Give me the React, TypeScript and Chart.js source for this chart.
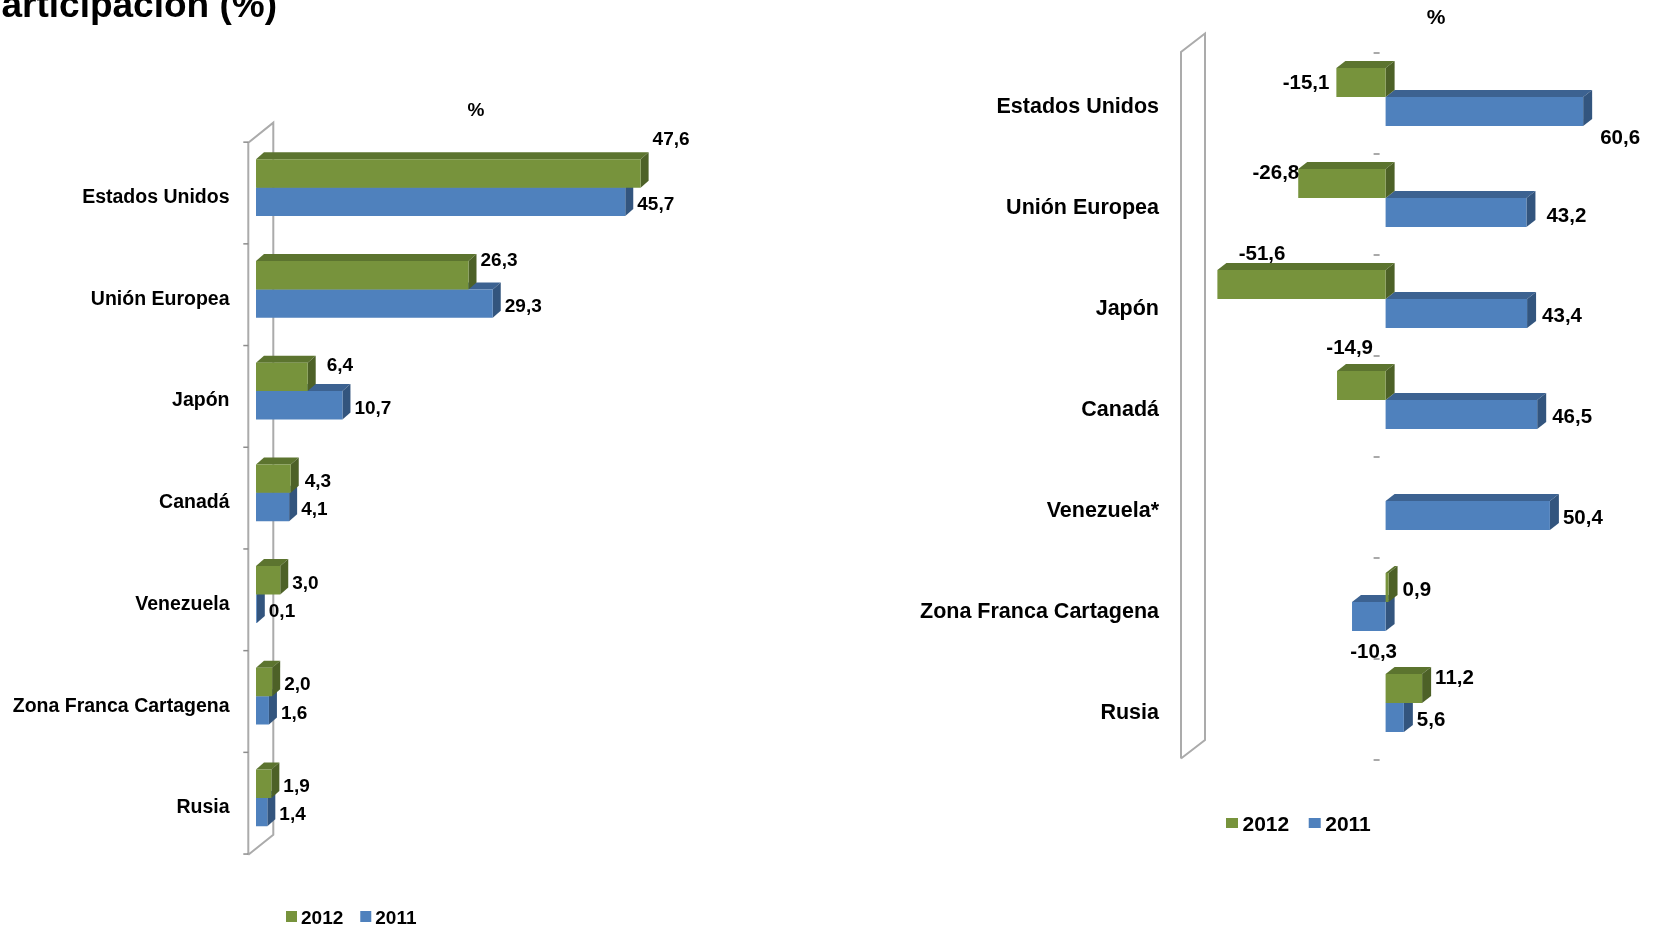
import React, { useEffect, useRef } from 'react';
import { Chart, registerables } from 'chart.js';

Chart.register(...registerables);

// ---------- DATA ----------
const categoriesLeft = ['Estados Unidos', 'Unión Europea', 'Japón', 'Canadá', 'Venezuela', 'Zona Franca Cartagena', 'Rusia'];
const categoriesRight = ['Estados Unidos', 'Unión Europea', 'Japón', 'Canadá', 'Venezuela*', 'Zona Franca Cartagena', 'Rusia'];
const seriesNames = ['2012', '2011'];
const left2012 = [47.6, 26.3, 6.4, 4.3, 3.0, 2.0, 1.9];
const left2011 = [45.7, 29.3, 10.7, 4.1, 0.1, 1.6, 1.4];
const right2012: (number | null)[] = [-15.1, -26.8, -51.6, -14.9, null, 0.9, 11.2];
const right2011 = [60.6, 43.2, 43.4, 46.5, 50.4, -10.3, 5.6];
const pageTitle = 'Participación (%)';
const unitLabel = '%';

// ---------- LAYOUT / STYLE ----------
const FONT = '"Liberation Sans", Arial, Helvetica, sans-serif';
const GREEN = '#77933C';
const BLUE = '#4F81BD';
const FACES = [
  { top: '#5C742F', side: '#4D6127' },
  { top: '#3C6291', side: '#33557E' },
];

// label nudges (pixels) relative to default position, per series
const leftLabelNudge2012 = [[0, -37], [0, -17], [7, -14], [2, 0], [0, 0], [0, 0], [0, 0]];
const leftLabelNudge2011 = [[0, 0], [0, 0], [0, 0], [0, 0], [0, 0], [0, 0], [0, 0]];
const rightLabelNudge2012 = [[-3, -2], [5, -13], [72, -33], [40, -40], [0, 0], [1, 0], [0, -13]];
const rightLabelNudge2011 = [[4, 24], [7, 1], [2, 0], [2, 0], [0, 0], [49, 33], [0, 0]];

type Panel = {
  left: number;
  width: number;
  height: number;
  areaLeft: number;
  areaTop: number;
  areaBottom: number;
  xMin: number;
  xMax: number;
  pxPerUnit: number;
  categories: string[];
  s2012: (number | null)[];
  s2011: (number | null)[];
  nudges: number[][][];
  catFont: number;
  catPad: number;
  catOffset: number;
  valueFont: number;
  depth: [number, number];
  barPct: number;
  wall: { fx: number; dx: number; ft: number; fb: number; dy: number };
  ticks: { mode: 'wall' | 'zero'; x1: number; x2: number; dy: number };
  legend: { x: number; y: number; bw: number; bh: number; textGap: number; itemGap: number; font: number };
  unit: { x: number; y: number; font: number };
  title?: { x: number; y: number; font: number };
};

const fmt = (v: number) => v.toFixed(1).replace('.', ',');

function makePlugin(p: Panel) {
  return {
    id: 'excel3d',
    beforeDatasetsDraw(chart: any) {
      const ctx = chart.ctx;
      const a = chart.chartArea;
      ctx.save();
      // back wall
      const fx = a.left + p.wall.fx;
      const bx = fx + p.wall.dx;
      const ft = a.top + p.wall.ft;
      const fb = a.bottom + p.wall.fb;
      ctx.strokeStyle = '#ababab';
      ctx.lineWidth = 2;
      ctx.beginPath();
      ctx.moveTo(fx, fb);
      ctx.lineTo(fx, ft);
      ctx.lineTo(bx, ft - p.wall.dy);
      ctx.lineTo(bx, fb - p.wall.dy);
      ctx.lineTo(fx, fb);
      ctx.stroke();
      // category ticks
      const n = chart.data.labels.length;
      const step = (a.bottom - a.top) / n;
      const x0 = chart.scales.x.getPixelForValue(0);
      const baseX = p.ticks.mode === 'wall' ? fx : x0;
      ctx.strokeStyle = '#8c8c8c';
      ctx.lineWidth = 1.5;
      for (let k = 0; k <= n; k++) {
        const y = a.top + k * step + p.ticks.dy;
        ctx.beginPath();
        ctx.moveTo(baseX + p.ticks.x1, y);
        ctx.lineTo(baseX + p.ticks.x2, y);
        ctx.stroke();
      }
      // 3D faces: 2011 first, then 2012
      const [ddx, ddy] = p.depth;
      for (const di of [1, 0]) {
        const meta = chart.getDatasetMeta(di);
        const data = chart.data.datasets[di].data;
        meta.data.forEach((el: any, i: number) => {
          if (data[i] === null || data[i] === undefined) return;
          const { x, y, base, height } = el.getProps(['x', 'y', 'base', 'height'], true);
          const l = Math.min(x, base);
          const r = Math.max(x, base);
          const t = y - height / 2;
          const b = y + height / 2;
          ctx.fillStyle = FACES[di].top;
          ctx.beginPath();
          ctx.moveTo(l, t);
          ctx.lineTo(l + ddx, t - ddy);
          ctx.lineTo(r + ddx, t - ddy);
          ctx.lineTo(r, t);
          ctx.closePath();
          ctx.fill();
          ctx.fillStyle = FACES[di].side;
          ctx.beginPath();
          ctx.moveTo(r, t);
          ctx.lineTo(r + ddx, t - ddy);
          ctx.lineTo(r + ddx, b - ddy);
          ctx.lineTo(r, b);
          ctx.closePath();
          ctx.fill();
        });
      }
      ctx.restore();
    },
    afterDatasetsDraw(chart: any) {
      const ctx = chart.ctx;
      ctx.save();
      ctx.font = `bold ${p.valueFont}px ${FONT}`;
      ctx.fillStyle = '#000';
      ctx.textBaseline = 'middle';
      for (const di of [0, 1]) {
        const meta = chart.getDatasetMeta(di);
        const data = chart.data.datasets[di].data;
        meta.data.forEach((el: any, i: number) => {
          const v = data[i];
          if (v === null || v === undefined) return;
          const { x, y } = el.getProps(['x', 'y'], true);
          const nd = p.nudges[di][i] || [0, 0];
          let tx: number;
          if (v >= 0) {
            ctx.textAlign = 'left';
            tx = x + p.depth[0] + 4;
          } else {
            ctx.textAlign = 'right';
            tx = x - 4;
          }
          ctx.fillText(fmt(v), tx + nd[0], y + 3 + nd[1]);
        });
      }
      ctx.restore();
    },
    afterDraw(chart: any) {
      const ctx = chart.ctx;
      ctx.save();
      ctx.fillStyle = '#000';
      // unit label
      ctx.font = `bold ${p.unit.font}px ${FONT}`;
      ctx.textAlign = 'center';
      ctx.textBaseline = 'middle';
      ctx.fillText(unitLabel, p.unit.x, p.unit.y);
      // legend
      ctx.font = `bold ${p.legend.font}px ${FONT}`;
      ctx.textAlign = 'left';
      let lx = p.legend.x;
      chart.data.datasets.forEach((ds: any) => {
        ctx.fillStyle = ds.backgroundColor;
        ctx.fillRect(lx, p.legend.y - p.legend.bh / 2, p.legend.bw, p.legend.bh);
        ctx.fillStyle = '#000';
        const tx = lx + p.legend.bw + p.legend.textGap;
        ctx.fillText(ds.label, tx, p.legend.y + 2);
        lx = tx + ctx.measureText(ds.label).width + p.legend.itemGap;
      });
      // page title
      if (p.title) {
        ctx.font = `bold ${p.title.font}px ${FONT}`;
        ctx.textAlign = 'right';
        ctx.textBaseline = 'alphabetic';
        ctx.fillText(pageTitle, p.title.x, p.title.y);
      }
      ctx.restore();
    },
  };
}

function ChartPanel({ p }: { p: Panel }) {
  const ref = useRef<HTMLCanvasElement | null>(null);
  useEffect(() => {
    if (!ref.current) return;
    const areaRight = p.areaLeft + (p.xMax - p.xMin) * p.pxPerUnit;
    const chart = new Chart(ref.current, {
      type: 'bar',
      data: {
        labels: p.categories,
        datasets: [
          { label: seriesNames[0], data: p.s2012, backgroundColor: GREEN, borderWidth: 0 },
          { label: seriesNames[1], data: p.s2011, backgroundColor: BLUE, borderWidth: 0 },
        ],
      },
      options: {
        indexAxis: 'y',
        responsive: false,
        animation: false,
        events: [],
        layout: {
          padding: {
            left: 0,
            top: p.areaTop,
            right: p.width - areaRight,
            bottom: p.height - p.areaBottom,
          },
        },
        datasets: { bar: { barPercentage: 1, categoryPercentage: p.barPct } },
        scales: {
          x: { type: 'linear', min: p.xMin, max: p.xMax, display: false },
          y: {
            type: 'category',
            display: true,
            grid: { display: false, drawTicks: false },
            border: { display: false },
            ticks: {
              color: '#000',
              padding: p.catPad,
              labelOffset: p.catOffset,
              autoSkip: false,
              font: { family: FONT, size: p.catFont, weight: 'bold' },
            },
            afterFit: (scale: any) => {
              scale.width = p.areaLeft;
            },
          },
        },
        plugins: {
          legend: { display: false },
          title: { display: false },
          tooltip: { enabled: false },
        },
      } as any,
      plugins: [makePlugin(p)],
    });
    return () => chart.destroy();
  }, [p]);
  return (
    <canvas
      ref={ref}
      width={p.width}
      height={p.height}
      style={{ position: 'absolute', left: p.left, top: 0, width: p.width, height: p.height }}
    />
  );
}

const leftPanel: Panel = {
  left: 0,
  width: 830,
  height: 927,
  areaLeft: 256,
  areaTop: 136.85,
  areaBottom: 848.75,
  xMin: 0,
  xMax: 60,
  pxPerUnit: 8.08,
  categories: categoriesLeft,
  s2012: left2012,
  s2011: left2011,
  nudges: [leftLabelNudge2012, leftLabelNudge2011],
  catFont: 19.5,
  catPad: 26.5,
  catOffset: 10,
  valueFont: 19,
  depth: [8, 7],
  barPct: 0.5585,
  wall: { fx: -7.7, dx: 25, ft: 5.85, fb: 6, dy: 20 },
  ticks: { mode: 'wall', x1: -5, x2: 0, dy: 5.3 },
  legend: { x: 286, y: 916.5, bw: 11, bh: 11, textGap: 4, itemGap: 17, font: 19 },
  unit: { x: 476, y: 111, font: 19 },
  title: { x: 277, y: 16.5, font: 37 },
};

const rightPanel: Panel = {
  left: 830,
  width: 825,
  height: 927,
  areaLeft: 360,
  areaTop: 46.5,
  areaBottom: 753.5,
  xMin: -60,
  xMax: 70,
  pxPerUnit: 3.26,
  categories: categoriesRight,
  s2012: right2012,
  s2011: right2011,
  nudges: [rightLabelNudge2012, rightLabelNudge2011],
  catFont: 21.5,
  catPad: 31,
  catOffset: 10,
  valueFont: 20.5,
  depth: [9, 7],
  barPct: 0.574,
  wall: { fx: -9, dx: 24, ft: 5.5, fb: 5, dy: 18.5 },
  ticks: { mode: 'zero', x1: -12, x2: -6, dy: 6.5 },
  legend: { x: 396, y: 823, bw: 12, bh: 10, textGap: 4.5, itemGap: 19.5, font: 21 },
  unit: { x: 606, y: 18, font: 21 },
};

export default function App() {
  return (
    <div
      style={{
        position: 'fixed',
        left: 0,
        top: 0,
        width: 1655,
        height: 927,
        background: '#ffffff',
        overflow: 'hidden',
      }}
    >
      <ChartPanel p={leftPanel} />
      <ChartPanel p={rightPanel} />
    </div>
  );
}
